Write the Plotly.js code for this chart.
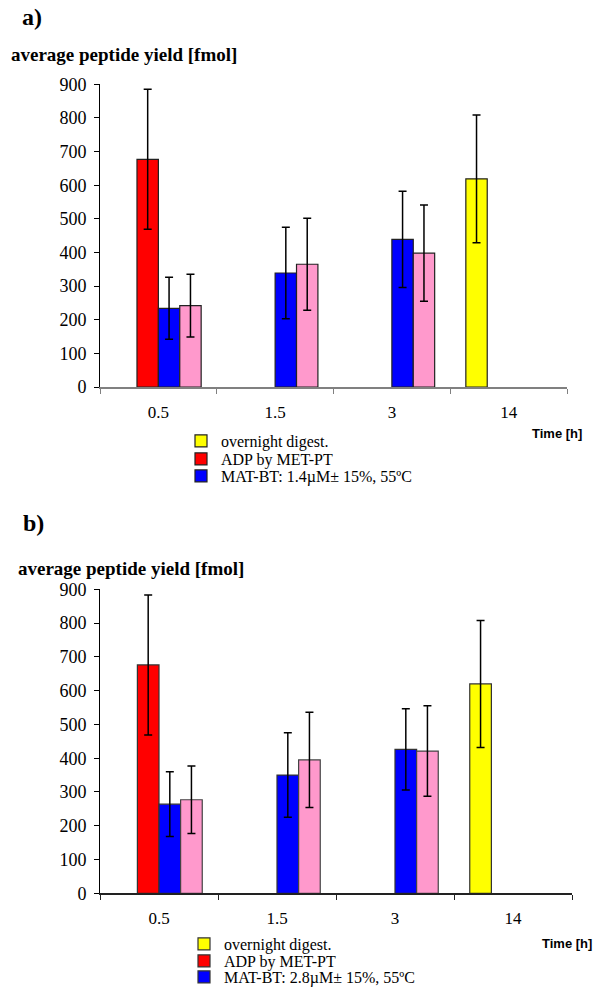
<!DOCTYPE html>
<html>
<head>
<meta charset="utf-8">
<script src="https://cdn.plot.ly/plotly-3.0.1.min.js"></script>
<style>html,body{margin:0;padding:0;background:#fff;}#chart{width:608px;height:988px;}</style>
</head>
<body>
<div id="chart"></div>
<script>
// ---- data ----
var categories = ["0.5", "1.5", "3", "14"];

// panel a)
var yellowA = [null, null, null, 619];
var yellowErrA = [0, 0, 0, 190];
var redA = [677, null, null, null];
var redErrA = [208, 0, 0, 0];
var blueA = [234, 339, 439, null];
var blueErrA = [92, 136, 143, 0];
var pinkA = [242, 365, 398, null];
var pinkErrA = [93, 137, 143, 0];

// panel b)
var yellowB = [null, null, null, 620];
var yellowErrB = [0, 0, 0, 188];
var redB = [676, null, null, null];
var redErrB = [207, 0, 0, 0];
var blueB = [264, 350, 426, null];
var blueErrB = [96, 125, 120, 0];
var pinkB = [277, 395, 421, null];
var pinkErrB = [100, 141, 134, 0];

var seriesNames = ["overnight digest.", "ADP by MET-PT", "MAT-BT: 1.4\u00b5M\u00b1 15%, 55\u00baC", "MAT-BT: 2.8\u00b5M\u00b1 15%, 55\u00baC"];

// ---- build ----
var W = 608, H = 988;
function px(x) { return x / W; }
function py(y) { return 1 - y / H; }

var colors = {yellow: "#FFFF00", red: "#FF0000", blue: "#0000FF", pink: "#FF99CC"};

function bar(name, y, err, color, xa, ya, legend, show, lineColor) {
  return {
    type: "bar", name: name, x: categories, y: y,
    xaxis: xa, yaxis: ya, legend: legend, showlegend: show,
    marker: {color: color, line: {color: lineColor, width: 1.2}},
    error_y: {type: "data", array: err, visible: true, color: "#000", thickness: 1.5, width: 4}
  };
}

var traces = [
  bar(seriesNames[0], yellowA, yellowErrA, colors.yellow, "x", "y", "legend", true, "#222"),
  bar(seriesNames[1], redA, redErrA, colors.red, "x", "y", "legend2", true, "#222"),
  bar(seriesNames[2], blueA, blueErrA, colors.blue, "x", "y", "legend3", true, "#222"),
  bar("pink", pinkA, pinkErrA, colors.pink, "x", "y", "legend", false, "#222"),
  bar(seriesNames[0], yellowB, yellowErrB, colors.yellow, "x2", "y2", "legend4", true, "#333"),
  bar(seriesNames[1], redB, redErrB, colors.red, "x2", "y2", "legend5", true, "#333"),
  bar(seriesNames[3], blueB, blueErrB, colors.blue, "x2", "y2", "legend6", true, "#333"),
  bar("pink", pinkB, pinkErrB, colors.pink, "x2", "y2", "legend4", false, "#444")
];

var serif = '"Liberation Serif", "Times New Roman", serif';
var tickFont = {family: serif, size: 18, color: "#000"};

function xaxis(domain, anchor, lineColor) {
  return {
    domain: domain, anchor: anchor, type: "category",
    range: [-0.5, 3.5], tickson: "boundaries",
    ticks: "outside", ticklen: 5, tickcolor: lineColor, tickwidth: 1,
    showline: true, linecolor: lineColor, linewidth: 1.5,
    showgrid: false, zeroline: false, tickfont: {family: serif, size: 17, color: "#000"}, ticklabelstandoff: 9,
    fixedrange: true
  };
}
function yaxis(domain, anchor) {
  return {
    domain: domain, anchor: anchor, range: [0, 900], dtick: 100,
    ticks: "outside", ticklen: 5, tickcolor: "#000", tickwidth: 1,
    showline: true, linecolor: "#000", linewidth: 1,
    showgrid: false, zeroline: false, tickfont: tickFont, ticklabelstandoff: 4,
    fixedrange: true
  };
}

function legendAt(x, yc) {
  return {
    x: px(x), xanchor: "left", y: py(yc), yanchor: "middle",
    font: {family: serif, size: 16, color: "#000"},
    bgcolor: "rgba(0,0,0,0)", borderwidth: 0,
    itemclick: false, itemdoubleclick: false
  };
}

var legX = 181;

var layout = {
  width: W, height: H,
  margin: {l: 0, r: 0, t: 0, b: 0, autoexpand: false},
  paper_bgcolor: "#fff", plot_bgcolor: "#fff",
  barmode: "group", bargap: 0.267, bargroupgap: 0,
  xaxis: xaxis([px(100), px(567)], "y", "#808080"),
  yaxis: yaxis([py(387), py(84.3)], "x"),
  xaxis2: xaxis([px(100), px(572)], "y2", "#222"),
  yaxis2: yaxis([py(893.3), py(589.3)], "x2"),
  legend: legendAt(legX, 441),
  legend2: legendAt(legX, 459),
  legend3: legendAt(legX, 476),
  legend4: legendAt(legX + 3, 944),
  legend5: legendAt(legX + 3, 961),
  legend6: legendAt(legX + 3, 977),
  annotations: [
    {text: "<b>a)</b>", x: px(20), y: py(17), xref: "paper", yref: "paper", xanchor: "left", yanchor: "middle", showarrow: false, font: {family: serif, size: 24, color: "#000"}},
    {text: "<b>average peptide yield [fmol]</b>", x: px(9), y: py(55), xref: "paper", yref: "paper", xanchor: "left", yanchor: "middle", showarrow: false, font: {family: serif, size: 19, color: "#000"}},
    {text: "<b>Time [h]</b>", x: px(530), y: py(433), xref: "paper", yref: "paper", xanchor: "left", yanchor: "middle", showarrow: false, font: {family: "Liberation Sans, Arial, sans-serif", size: 13, color: "#000"}},
    {text: "<b>b)</b>", x: px(21), y: py(523), xref: "paper", yref: "paper", xanchor: "left", yanchor: "middle", showarrow: false, font: {family: serif, size: 24, color: "#000"}},
    {text: "<b>average peptide yield [fmol]</b>", x: px(16), y: py(568), xref: "paper", yref: "paper", xanchor: "left", yanchor: "middle", showarrow: false, font: {family: serif, size: 19, color: "#000"}},
    {text: "<b>Time [h]</b>", x: px(540), y: py(943), xref: "paper", yref: "paper", xanchor: "left", yanchor: "middle", showarrow: false, font: {family: "Liberation Sans, Arial, sans-serif", size: 13, color: "#000"}}
  ]
};

Plotly.newPlot("chart", traces, layout, {displayModeBar: false, staticPlot: true});
</script>
</body>
</html>
